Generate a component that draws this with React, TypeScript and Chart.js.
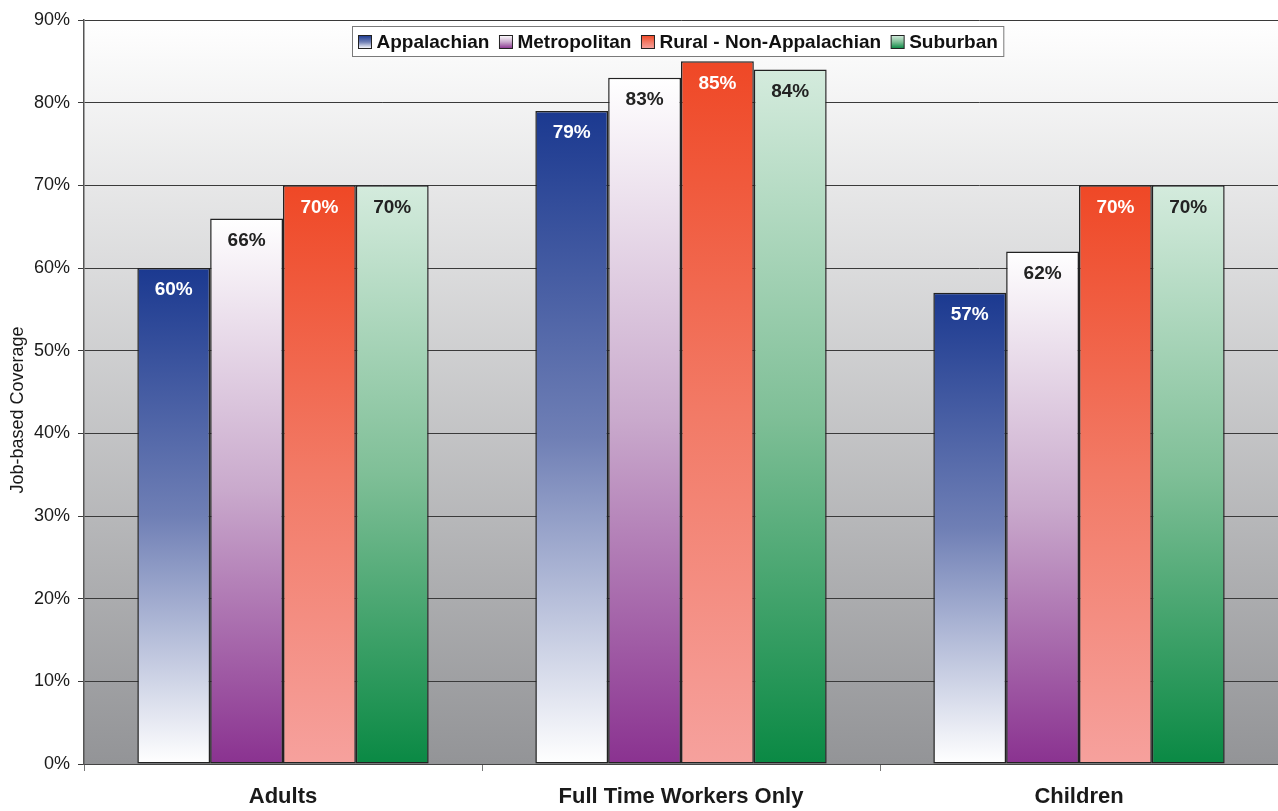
import React, { useEffect, useRef } from "react";
import { Chart, registerables } from "chart.js";

Chart.register(...registerables);

const categories = ["Adults", "Full Time Workers Only", "Children"];
const seriesNames = ["Appalachian", "Metropolitan", "Rural - Non-Appalachian", "Suburban"];
const appalachian = [60, 79, 57];
const metropolitan = [66, 83, 62];
const ruralNonAppalachian = [70, 85, 70];
const suburban = [70, 84, 70];
const yTicks = [0, 10, 20, 30, 40, 50, 60, 70, 80, 90];
const yAxisTitle = "Job-based Coverage";

// gradient stops per series, top of bar -> bottom of bar
const gradientStops: string[][] = [
  ["#1b3990", "#6f7fb5", "#ffffff"],
  ["#ffffff", "#c9a9cc", "#8a3290"],
  ["#ef4826", "#f27a66", "#f6a19d"],
  ["#d4ebdd", "#7fbf97", "#0a8944"],
];
const labelColors = ["#ffffff", "#222222", "#ffffff", "#222222"];
const FONT = "'Liberation Sans', Arial, Helvetica, sans-serif";

function makeGradient(ctx: CanvasRenderingContext2D, top: number, bottom: number, stops: string[]) {
  const g = ctx.createLinearGradient(0, top, 0, bottom);
  stops.forEach((s, i) => g.addColorStop(i / (stops.length - 1), s));
  return g;
}

const backgroundPlugin = {
  id: "plotBackground",
  beforeDraw(chart: any) {
    const { ctx, chartArea } = chart;
    if (!chartArea) return;
    const g = ctx.createLinearGradient(0, chartArea.top, 0, chartArea.bottom);
    g.addColorStop(0, "#ffffff");
    g.addColorStop(1, "#939497");
    ctx.save();
    ctx.fillStyle = g;
    ctx.fillRect(chartArea.left, chartArea.top, chartArea.right - chartArea.left, chartArea.bottom - chartArea.top);
    ctx.restore();
  },
};

// paints each bar with a vertical gradient spanning its own height
const barGradientPlugin = {
  id: "barGradients",
  beforeDatasetsDraw(chart: any) {
    const { ctx } = chart;
    chart.data.datasets.forEach((_ds: any, di: number) => {
      const meta = chart.getDatasetMeta(di);
      meta.data.forEach((bar: any) => {
        if (!isFinite(bar.y) || !isFinite(bar.base)) return;
        try {
          bar.options.backgroundColor = makeGradient(ctx, bar.y, bar.base, gradientStops[di]);
        } catch (e) {
          /* options object not writable */
        }
      });
    });
  },
};

const valueLabelPlugin = {
  id: "valueLabels",
  afterDatasetsDraw(chart: any) {
    const { ctx } = chart;
    ctx.save();
    ctx.font = `bold 19px ${FONT}`;
    ctx.textAlign = "center";
    ctx.textBaseline = "middle";
    chart.data.datasets.forEach((ds: any, di: number) => {
      const meta = chart.getDatasetMeta(di);
      meta.data.forEach((bar: any, i: number) => {
        ctx.fillStyle = labelColors[di];
        ctx.fillText(`${ds.data[i]}%`, bar.x, bar.y + 22);
      });
    });
    ctx.restore();
  },
};

// rotated y-axis title, sitting a little below the plot's middle
const axisTitlePlugin = {
  id: "yAxisTitle",
  afterDraw(chart: any) {
    const { ctx, chartArea } = chart;
    ctx.save();
    ctx.font = `18px ${FONT}`;
    ctx.fillStyle = "#1a1a1a";
    ctx.textAlign = "center";
    ctx.textBaseline = "middle";
    ctx.translate(18, (chartArea.top + chartArea.bottom) / 2 + 18);
    ctx.rotate(-Math.PI / 2);
    ctx.fillText(yAxisTitle, 0, 0);
    ctx.restore();
  },
};

const legendBoxPlugin = {
  id: "legendBox",
  afterDraw(chart: any) {
    const { ctx } = chart;
    ctx.save();
    ctx.font = `bold 19px ${FONT}`;
    const marker = 13;
    const gapMarker = 5;
    const gapItem = 10;
    const widths = seriesNames.map((n) => ctx.measureText(n).width);
    const total = widths.reduce((a, w) => a + marker + gapMarker + w, 0) + gapItem * (seriesNames.length - 1);
    const padX = 6;
    const boxW = total + padX * 2;
    const boxH = 30;
    const boxX = Math.round(678 - boxW / 2) + 0.5;
    const boxY = 26.5;
    ctx.fillStyle = "#ffffff";
    ctx.fillRect(boxX, boxY, boxW, boxH);
    ctx.strokeStyle = "#7a7a7a";
    ctx.lineWidth = 1;
    ctx.strokeRect(boxX, boxY, boxW, boxH);
    let x = boxX + padX;
    const cy = boxY + boxH / 2;
    seriesNames.forEach((n, i) => {
      const my = Math.round(cy - marker / 2) + 0.5;
      ctx.fillStyle = makeGradient(ctx, my, my + marker, gradientStops[i]);
      ctx.fillRect(x, my, marker, marker);
      ctx.strokeStyle = "#222222";
      ctx.strokeRect(x, my, marker, marker);
      x += marker + gapMarker;
      ctx.fillStyle = "#111111";
      ctx.textBaseline = "middle";
      ctx.textAlign = "left";
      ctx.fillText(n, x, cy + 1);
      x += widths[i] + gapItem;
    });
    ctx.restore();
  },
};

export default function App() {
  const canvasRef = useRef<HTMLCanvasElement | null>(null);

  useEffect(() => {
    const canvas = canvasRef.current;
    if (!canvas) return;
    const seriesValues = [appalachian, metropolitan, ruralNonAppalachian, suburban];
    const chart = new Chart(canvas, {
      type: "bar",
      data: {
        labels: categories,
        datasets: seriesNames.map((name, di) => ({
          label: name,
          data: seriesValues[di],
          // scriptable so every bar gets its own options object
          backgroundColor: (c: any) => gradientStops[di][c.dataIndex != null ? 0 : 0],
          borderColor: "#222222",
          borderWidth: 1.5,
          borderSkipped: false,
          categoryPercentage: 0.732,
          barPercentage: 1,
        })),
      },
      options: {
        animation: false,
        responsive: false,
        maintainAspectRatio: false,
        layout: { padding: { top: 20, right: 0, left: 0, bottom: 0 } },
        plugins: {
          legend: { display: false },
          tooltip: { enabled: false },
        },
        scales: {
          x: {
            offset: true,
            grid: {
              offset: true,
              drawOnChartArea: false,
              drawTicks: true,
              tickLength: 7,
              color: "#777777",
            },
            border: { display: true, color: "#444444", width: 1 },
            ticks: {
              color: "#1a1a1a",
              font: { family: FONT, size: 22, weight: "bold" },
              padding: 13,
            },
            afterFit: (s: any) => {
              s.height = 47;
            },
          },
          y: {
            min: 0,
            max: 90,
            afterBuildTicks: (s: any) => {
              s.ticks = yTicks.map((v) => ({ value: v }));
            },
            grid: {
              color: "#3a3a3a",
              lineWidth: 1,
              tickLength: 6,
            },
            border: { display: true, color: "#555555", width: 1.5 },
            ticks: {
              color: "#1a1a1a",
              font: { family: FONT, size: 18 },
              padding: 8,
              callback: (v: any) => `${v}%`,
            },
            title: { display: false },
            afterFit: (s: any) => {
              s.width = 84;
            },
          },
        },
      },
      plugins: [backgroundPlugin, barGradientPlugin, valueLabelPlugin, axisTitlePlugin, legendBoxPlugin],
    });
    return () => chart.destroy();
  }, []);

  return (
    <div style={{ position: "fixed", left: 0, top: 0, width: 1278, height: 811, background: "#ffffff" }}>
      <canvas ref={canvasRef} width={1278} height={811} style={{ width: 1278, height: 811, display: "block" }} />
    </div>
  );
}
